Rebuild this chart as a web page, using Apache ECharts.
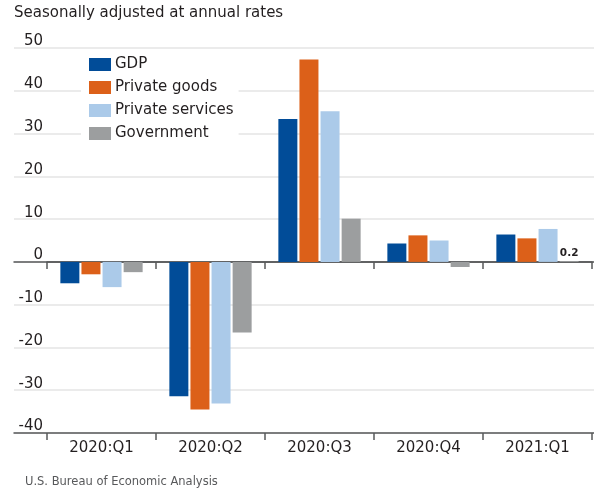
<!DOCTYPE html>
<html>
<head>
<meta charset="utf-8">
<script src="https://cdn.jsdelivr.net/npm/echarts@6/dist/echarts.min.js"></script>
<style>
html,body{margin:0;padding:0;background:#fff;}
#c{width:594px;height:492px;}
</style>
</head>
<body>
<div id="c"></div>
<script>
const categories = ['2020:Q1', '2020:Q2', '2020:Q3', '2020:Q4', '2021:Q1'];
const gdp = [-5.0, -31.4, 33.4, 4.3, 6.4];
const privateGoods = [-2.9, -34.5, 47.3, 6.2, 5.5];
const privateServices = [-5.9, -33.1, 35.2, 5.0, 7.7];
const government = [-2.4, -16.5, 10.1, -1.2, 0.2];
const yMin = -40, yMax = 50, yStep = 10;
const titleText = 'Seasonally adjusted at annual rates';
const sourceText = 'U.S. Bureau of Economic Analysis';

const FONT = 'DejaVu Sans';
const TXT = '#231f20';
const AXIS = '#58595b';
const colors = ['#014c98', '#dc6019', '#abcae9', '#9c9e9f'];

const chart = echarts.init(document.getElementById('c'), null, {renderer: 'canvas'});
const barSeries = (name, data, color, extra) => Object.assign({
  name: name, type: 'bar', data: data, xAxisIndex: 2, yAxisIndex: 1,
  barWidth: 19, barGap: '11%', itemStyle: {color: color}, z: 3
}, extra || {});

chart.setOption({
  animation: false,
  backgroundColor: '#fff',
  textStyle: {fontFamily: FONT},
  graphic: [
    {type: 'text', left: 14, top: 6, style: {text: titleText, font: '15px "DejaVu Sans"', fill: TXT}},
    {type: 'text', left: 25, top: 476, style: {text: sourceText, font: '11.5px "DejaVu Sans"', fill: '#58595b'}}
  ],
  legend: {
    orient: 'vertical', left: 81, top: 54,
    backgroundColor: '#fff', padding: [3, 5, 3, 8],
    itemWidth: 22, itemHeight: 13, itemGap: 8,
    icon: 'rect',
    textStyle: {fontFamily: FONT, fontSize: 15, color: TXT, padding: [0, 0, 0, -1]},
    data: ['GDP', 'Private goods', 'Private services', 'Government']
  },
  grid: [
    {left: 14, right: 0, top: 48, bottom: 59},
    {left: 47, right: 2, top: 48, bottom: 59}
  ],
  xAxis: [
    {gridIndex: 0, type: 'value', min: 0, max: 1, position: 'bottom',
     axisLine: {show: true, onZero: false, lineStyle: {color: AXIS, width: 1.5}},
     axisTick: {show: false}, axisLabel: {show: false}, splitLine: {show: false}},
    {gridIndex: 0, type: 'value', min: 0, max: 1, position: 'bottom',
     axisLine: {show: true, onZero: true, lineStyle: {color: AXIS, width: 1.5}},
     axisTick: {show: false}, axisLabel: {show: false}, splitLine: {show: false}},
    {gridIndex: 1, type: 'category', data: categories, position: 'bottom',
     axisLine: {show: false, onZero: false},
     axisTick: {show: true, length: 7, interval: 0, lineStyle: {color: AXIS, width: 1.5}},
     axisLabel: {fontFamily: FONT, fontSize: 15, color: TXT, margin: 8},
     splitLine: {show: false}},
    {gridIndex: 1, type: 'category', data: categories, position: 'bottom',
     axisLine: {show: true, onZero: true, lineStyle: {color: AXIS, width: 1.5}},
     axisTick: {show: true, length: 7, interval: 0, lineStyle: {color: AXIS, width: 1.5}},
     axisLabel: {show: false}, splitLine: {show: false}}
  ],
  yAxis: [
    {gridIndex: 0, type: 'value', min: yMin, max: yMax, interval: yStep,
     axisLine: {show: false}, axisTick: {show: false}, axisLabel: {show: false},
     splitLine: {show: true, lineStyle: {color: '#e4e4e4', width: 1.5}}},
    {gridIndex: 1, type: 'value', min: yMin, max: yMax, interval: yStep,
     axisLine: {show: false}, axisTick: {show: false},
     axisLabel: {fontFamily: FONT, fontSize: 15, color: TXT, margin: 4, verticalAlign: 'bottom', align: 'right', lineHeight: 13},
     splitLine: {show: false}}
  ],
  series: [
    barSeries('GDP', gdp, colors[0]),
    barSeries('Private goods', privateGoods, colors[1]),
    barSeries('Private services', privateServices, colors[2]),
    barSeries('Government', government, colors[3], {
      label: {show: true, position: 'top', distance: 2, fontFamily: FONT, fontSize: 10.5, fontWeight: 'bold', color: TXT,
        formatter: p => (p.dataIndex === categories.length - 1 ? String(p.value) : '')}
    })
  ]
});
</script>
</body>
</html>
